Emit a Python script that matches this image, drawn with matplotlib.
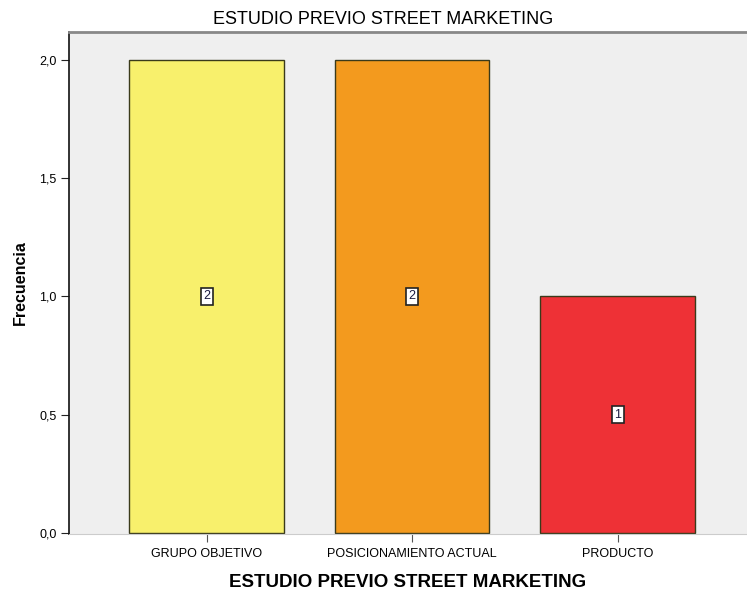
import matplotlib
matplotlib.use("Agg")
import matplotlib.pyplot as plt

categorias = ["GRUPO OBJETIVO", "POSICIONAMIENTO ACTUAL", "PRODUCTO"]
frecuencias = [2, 2, 1]
colores = ["#f8f06c", "#f39a1e", "#ee3136"]
y_ticks = [0.0, 0.5, 1.0, 1.5, 2.0]
y_tick_labels = ["0,0", "0,5", "1,0", "1,5", "2,0"]

plt.rcParams['font.family'] = ['Liberation Sans', 'DejaVu Sans']

fig = plt.figure(figsize=(7.47, 5.93), dpi=100)
ax = fig.add_axes([0.0924, 0.0995, 0.9076, 0.8465])
ax.set_facecolor("#efefef")

x = list(range(len(categorias)))
ax.bar(x, frecuencias, width=0.754, color=colores, edgecolor="#3a3a1a", linewidth=1.0, zorder=2)

# etiquetas de valor en medio de cada barra
for xi, f in zip(x, frecuencias):
    ax.text(xi, f / 2, str(f), ha="center", va="center", fontsize=9, color="#1a1a40", zorder=3,
            bbox=dict(boxstyle="square,pad=0.2", facecolor="white", edgecolor="#222222", linewidth=1.2))

ax.set_xlim(-0.669, 2.63)
ax.set_ylim(-0.005, 2.118)
ax.set_yticks(y_ticks)
ax.set_yticklabels(y_tick_labels, fontsize=9)
ax.set_xticks(x)
ax.set_xticklabels(categorias, fontsize=9)
ax.tick_params(axis="y", direction="out", length=6, color="#222222", pad=3)
ax.tick_params(axis="x", direction="out", length=6, color="#555555", pad=4)

ax.spines["right"].set_visible(False)
ax.spines["top"].set_color("#888888")
ax.spines["top"].set_linewidth(2)
ax.spines["left"].set_color("#111111")
ax.spines["left"].set_linewidth(1.2)
ax.spines["bottom"].set_color("#cccccc")

ax.set_ylabel("Frecuencia", fontsize=11.5, fontweight="bold", labelpad=8)
ax.set_xlabel("ESTUDIO PREVIO STREET MARKETING", fontsize=13.5, fontweight="bold", labelpad=10)
fig.text(383 / 747, 1 - 20 / 593, "ESTUDIO PREVIO STREET MARKETING", fontsize=13,
         ha="center", va="center")

fig.savefig("out.png", dpi=100)
